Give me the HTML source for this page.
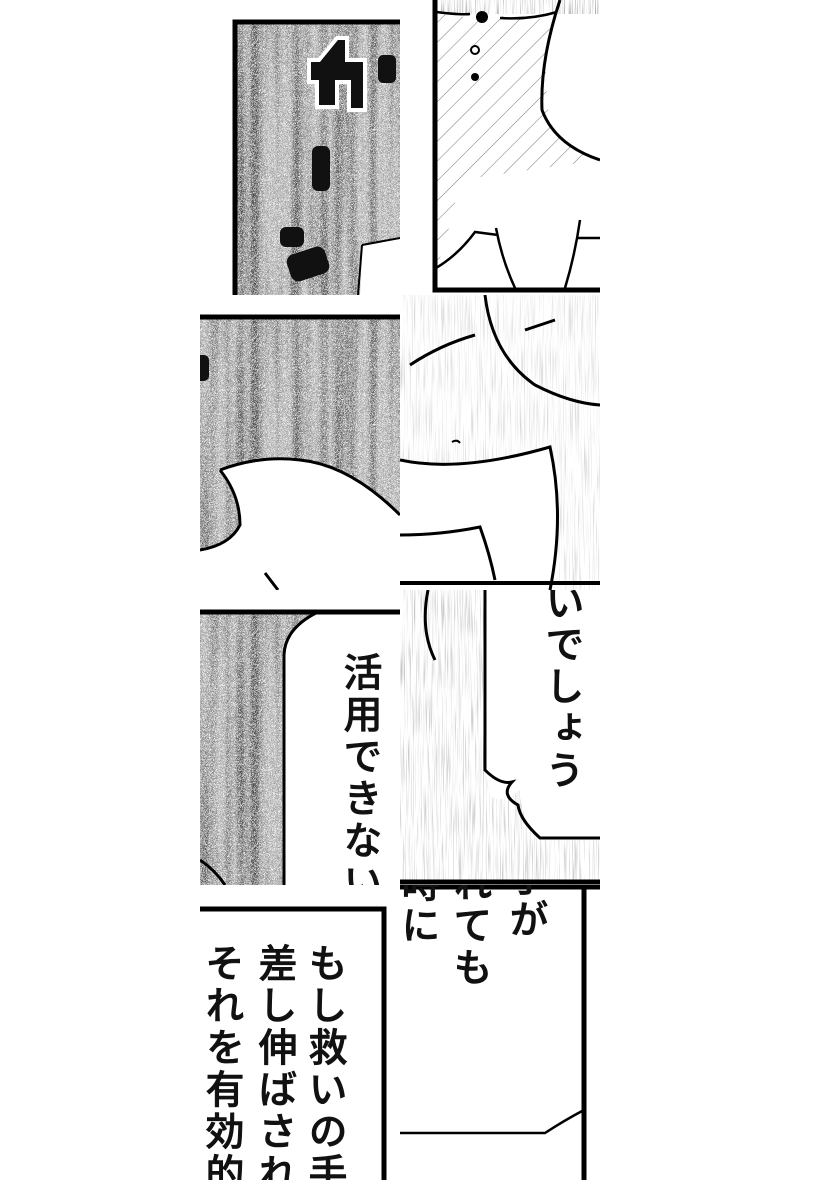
<!DOCTYPE html>
<html><head><meta charset="utf-8"><style>
body{margin:0;width:820px;height:1200px;background:#fff;position:relative;overflow:hidden;font-family:"Liberation Sans","Noto Sans CJK JP",sans-serif}
.t{position:absolute;overflow:hidden;background:#fff}
.v{position:absolute;writing-mode:vertical-rl;font-size:39px;line-height:42px;color:#111;letter-spacing:3px;white-space:nowrap;font-weight:500;-webkit-text-stroke:0.6px #111}
svg{position:absolute;left:0;top:0}
</style></head><body>
<svg width="0" height="0"><defs>
<filter id="n" x="0" y="0" width="100%" height="100%">
<feTurbulence type="turbulence" baseFrequency="1.2" numOctaves="1" seed="3" result="a"/>
<feColorMatrix in="a" type="matrix" values="0 0 0 0 0  0 0 0 0 0  0 0 0 0 0  -3.5 0 0 0 1.25" result="a2"/>
<feTurbulence type="fractalNoise" baseFrequency="0.1 0.003" numOctaves="1" seed="7" result="b"/>
<feColorMatrix in="b" type="matrix" values="0 0 0 0 0  0 0 0 0 0  0 0 0 0 0  -1.2 0 0 0 0.75" result="b2"/>
<feComposite in="a2" in2="b2" operator="arithmetic" k1="0.9" k2="0.35" k3="0" k4="0"/>
</filter>
<filter id="l" x="0" y="0" width="100%" height="100%">
<feTurbulence type="fractalNoise" baseFrequency="0.9 0.02" numOctaves="2" seed="5"/>
<feColorMatrix type="matrix" values="0 0 0 0 0  0 0 0 0 0  0 0 0 0 0  -2.5 0 0 0 1.25"/>
</filter>
<pattern id="h" width="14" height="14" patternUnits="userSpaceOnUse" patternTransform="rotate(45)"><line x1="0" y1="0" x2="0" y2="14" stroke="#777" stroke-width="1"/></pattern>
</defs></svg>

<!-- tile 1 -->
<div class="t" style="left:200px;top:0;width:200px;height:295px">
<svg width="200" height="295">
<rect x="33" y="20" width="180" height="290" filter="url(#n)"/>
<path d="M162 245 L200 238 L200 295 L160 295Z" fill="#fff"/>
<path d="M162 245 L200 238 M162 245 L158 295" stroke="#000" stroke-width="2" fill="none"/>
<path d="M35 295 V22 H200" stroke="#000" stroke-width="5" fill="none"/>
<path d="M137 38 l10 0 l0 22 l18 0 l0 50 l-16 0 l0 -28 l-12 0 l0 25 l-20 0 l0 -25 l-8 0 l0 -22 l10 0 z" fill="#111" stroke="#fff" stroke-width="4"/>
<rect x="178" y="55" width="18" height="28" rx="5" fill="#111"/>
<rect x="112" y="146" width="18" height="45" rx="6" fill="#111"/>
<rect x="80" y="227" width="24" height="20" rx="6" fill="#111"/>
<rect x="88" y="250" width="40" height="28" rx="8" fill="#111" transform="rotate(-18 108 264)"/>
</svg></div>

<!-- tile 2 -->
<div class="t" style="left:400px;top:0;width:200px;height:295px">
<svg width="200" height="295">
<rect x="36" y="0" width="164" height="290" fill="url(#h)"/>
<path d="M36 0 L36 200 L36 12 Q60 20 90 15 L160 20 L160 0Z" fill="#fff"/>
<path d="M60 180 Q50 230 36 270 L36 290 L200 290 L200 0 L155 0 Q140 70 150 120 Q160 150 200 160" fill="#fff"/>
<rect x="40" y="0" width="160" height="14" filter="url(#l)" opacity=".5"/>
<path d="M160 0 Q140 60 142 110 Q155 145 200 160" stroke="#000" stroke-width="3" fill="none"/>
<path d="M36 12 Q60 15 70 14 M100 18 Q130 20 157 12" stroke="#000" stroke-width="2.5" fill="none"/>
<circle cx="82" cy="17" r="6" fill="#000"/><circle cx="75" cy="50" r="4" fill="none" stroke="#000" stroke-width="2"/><circle cx="75" cy="77" r="4" fill="#000"/>
<path d="M36 268 Q58 255 75 232 L98 235 M96 228 Q102 260 115 288 M180 220 Q175 255 165 288 M177 238 L200 238" stroke="#000" stroke-width="2.5" fill="none"/>
<path d="M35 0 V290 H200" stroke="#000" stroke-width="5" fill="none"/>
</svg></div>

<!-- tile 3 -->
<div class="t" style="left:200px;top:295px;width:200px;height:295px">
<svg width="200" height="295">
<rect x="0" y="20" width="200" height="275" filter="url(#n)"/>
<path d="M20 175 Q60 160 100 165 Q150 170 200 220 L200 295 L0 295 L0 255 Q30 250 40 230 Q40 200 20 175Z" fill="#fff"/>
<path d="M20 175 Q60 160 100 165 Q150 170 200 220 M0 255 Q30 250 40 230 Q40 200 20 175 M65 278 L78 295" stroke="#000" stroke-width="3" fill="none"/>
<path d="M0 22 H200" stroke="#000" stroke-width="5"/>
<rect x="-5" y="60" width="14" height="26" rx="5" fill="#111"/>
</svg></div>

<!-- tile 4 -->
<div class="t" style="left:400px;top:295px;width:200px;height:295px">
<svg width="200" height="295">
<rect x="0" y="0" width="200" height="295" filter="url(#l)" opacity=".2"/>
<path d="M0 165 Q60 180 150 150 L158 190 Q160 240 150 295 L0 295Z" fill="#fff"/>
<rect x="0" y="230" width="90" height="65" fill="#fff"/>
<path d="M85 0 Q92 60 135 90 Q170 108 200 110" stroke="#000" stroke-width="3" fill="none"/>
<path d="M125 35 L155 25 M10 70 Q40 50 75 40" stroke="#000" stroke-width="3" fill="none"/>
<path d="M0 165 Q60 178 150 152 Q165 220 150 295 M0 240 Q40 240 80 232 Q90 260 95 285" stroke="#000" stroke-width="3" fill="none"/>
<path d="M0 288 H200" stroke="#000" stroke-width="4"/>
<path d="M52 147 q5 -3 8 1" stroke="#000" stroke-width="2" fill="none"/>
</svg></div>

<!-- tile 5 -->
<div class="t" style="left:200px;top:590px;width:200px;height:295px">
<svg width="200" height="295">
<rect x="0" y="20" width="200" height="275" filter="url(#n)"/>
<path d="M95 20 L120 20 Q85 35 85 60 L85 295 L200 295 L200 20Z" fill="#fff"/>
<path d="M118 22 Q85 38 84 65 L84 295" stroke="#000" stroke-width="3" fill="none"/>
<path d="M0 22 H200" stroke="#000" stroke-width="5"/>
<path d="M0 270 Q15 280 25 295" stroke="#000" stroke-width="3" fill="none"/>
</svg>
<div class="v" style="left:138px;top:62px">活用できない</div>
</div>

<!-- tile 6 -->
<div class="t" style="left:400px;top:590px;width:200px;height:295px">
<svg width="200" height="295">
<rect x="0" y="0" width="200" height="295" filter="url(#l)" opacity=".3"/>
<path d="M85 0 L200 0 L200 250 L140 250 Q120 225 120 200 Q100 215 90 205 L85 180Z" fill="#fff"/>
<path d="M85 0 L85 180 Q100 195 112 192 Q100 205 118 215 Q120 230 140 248 L200 248" stroke="#000" stroke-width="3" fill="none"/>
<path d="M28 0 Q20 40 35 70" stroke="#000" stroke-width="3" fill="none"/>
<path d="M0 292 H200" stroke="#000" stroke-width="5"/>
</svg>
<div class="v" style="left:140px;top:-8px">いでしょう</div>
</div>

<!-- tile 7 -->
<div class="t" style="left:200px;top:885px;width:200px;height:295px">
<svg width="200" height="295"><path d="M0 24 H184 V295" stroke="#000" stroke-width="5" fill="none"/></svg>
<div class="v" style="left:103px;top:58px">もし救いの手</div>
<div class="v" style="left:53px;top:58px">差し伸ばされ</div>
<div class="v" style="left:0px;top:58px">それを有効的</div>
</div>

<!-- tile 8 -->
<div class="t" style="left:400px;top:885px;width:200px;height:295px">
<svg width="200" height="295">
<path d="M0 2 H200 M184 2 V295" stroke="#000" stroke-width="5" fill="none"/>
<path d="M0 248 H145 Q165 235 184 225" stroke="#000" stroke-width="2.5" fill="none"/>
</svg>
<div class="v" style="left:104px;top:-28px">手が</div>
<div class="v" style="left:48px;top:-22px">れても</div>
<div class="v" style="left:-4px;top:-22px">時に</div>
</div>
</body></html>
